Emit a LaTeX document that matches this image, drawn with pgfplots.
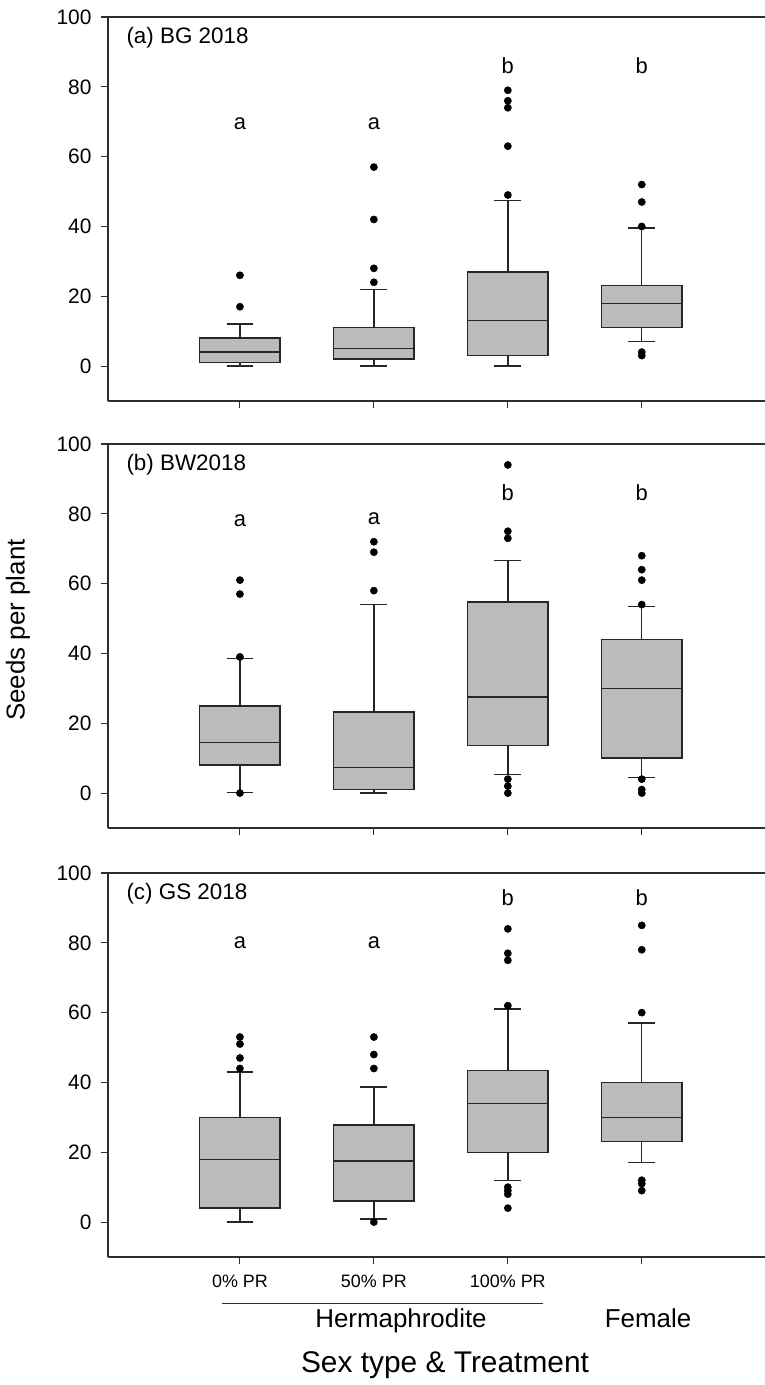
\documentclass[border=0pt]{standalone}
\usepackage{fontspec}
\setmainfont{Liberation Sans}
\usepackage{pgfplots}
\pgfplotsset{compat=1.18}
\usepgfplotslibrary{statistics}

\definecolor{boxgray}{RGB}{187,187,187}
\definecolor{spine}{RGB}{45,45,45}

\pgfplotsset{
  panel/.style={
    scale only axis, width=657bp, height=384bp,
    anchor=south west, clip=false,
    xmin=0.015, xmax=4.92, ymin=-10, ymax=100,
    axis x line*=box, axis y line*=left,
    axis line style={spine, line width=1.2pt},
    xtick={1,2,3,4}, xticklabels={}, xtick pos=left,
    ytick={0,20,40,60,80,100}, ytick pos=left,
    tick align=outside, major tick length=7bp,
    tick style={spine, line width=1.1pt},
    /pgf/number format/assume math mode=true,
    yticklabel style={font=\fontsize{21}{25}\selectfont, text=black, xshift=-6bp},
    boxplot/draw direction=y,
    boxplot/box extend=0.6,
    boxplot/whisker extend=0.2,
  },
  bx/.style={
    draw=black!85, line width=1.4pt, fill=boxgray,
    mark=*, mark size=3.6pt, mark options={draw=black, fill=black, line width=0.5pt},
  },
}
\newcommand{\lett}[3]{\node[font=\fontsize{22}{26}\selectfont] at (axis cs:#1,#2) {#3};}

\begin{document}
\begin{tikzpicture}
\useasboundingbox (0,0) rectangle (765bp,1385bp);

% (a) BG 2018
\begin{axis}[panel, at={(108bp,984bp)}]
  \addplot[bx, boxplot prepared={draw position=1,
    lower whisker=0, lower quartile=1, median=4, upper quartile=8, upper whisker=12}]
    table[row sep=\\, y index=0] {17\\ 26\\};
  \addplot[bx, boxplot prepared={draw position=2,
    lower whisker=0, lower quartile=2, median=5, upper quartile=11, upper whisker=22}]
    table[row sep=\\, y index=0] {24\\ 28\\ 42\\ 57\\};
  \addplot[bx, boxplot prepared={draw position=3,
    lower whisker=0, lower quartile=3, median=13, upper quartile=27, upper whisker=47.5}]
    table[row sep=\\, y index=0] {49\\ 63\\ 74\\ 76\\ 79\\};
  \addplot[bx, boxplot prepared={draw position=4,
    lower whisker=7, lower quartile=11, median=18, upper quartile=23, upper whisker=39.5}]
    table[row sep=\\, y index=0] {3\\ 4\\ 40\\ 47\\ 52\\};
  \lett{1}{69.5}{a}\lett{2}{69.5}{a}\lett{3}{86}{b}\lett{4}{86}{b}
  \node[anchor=west, font=\fontsize{22.5}{26}\selectfont] at ([xshift=15bp,yshift=-21bp]rel axis cs:0,1) {(a) BG 2018};
\end{axis}

% (b) BW2018
\begin{axis}[panel, at={(108bp,557bp)}]
  \addplot[bx, boxplot prepared={draw position=1,
    lower whisker=0.2, lower quartile=8, median=14.5, upper quartile=25, upper whisker=38.5}]
    table[row sep=\\, y index=0] {0\\ 39\\ 57\\ 61\\};
  \addplot[bx, boxplot prepared={draw position=2,
    lower whisker=0, lower quartile=1, median=7.3, upper quartile=23.2, upper whisker=54}]
    table[row sep=\\, y index=0] {58\\ 69\\ 72\\};
  \addplot[bx, boxplot prepared={draw position=3,
    lower whisker=5.3, lower quartile=13.7, median=27.5, upper quartile=54.7, upper whisker=66.7}]
    table[row sep=\\, y index=0] {0\\ 2\\ 4\\ 73\\ 75\\ 94\\};
  \addplot[bx, boxplot prepared={draw position=4,
    lower whisker=4.5, lower quartile=10, median=30, upper quartile=44, upper whisker=53.5}]
    table[row sep=\\, y index=0] {0\\ 1\\ 4\\ 54\\ 61\\ 64\\ 68\\};
  \lett{1}{78}{a}\lett{2}{78.5}{a}\lett{3}{86}{b}\lett{4}{86}{b}
  \node[anchor=west, font=\fontsize{22.5}{26}\selectfont] at ([xshift=15bp,yshift=-21bp]rel axis cs:0,1) {(b) BW2018};
\end{axis}

% (c) GS 2018
\begin{axis}[panel, at={(108bp,128bp)},
    xticklabels={0\% PR, 50\% PR, 100\% PR, {}},
    xticklabel style={font=\fontsize{18}{21}\selectfont, text=black, yshift=-7bp}]
  \addplot[bx, boxplot prepared={draw position=1,
    lower whisker=0, lower quartile=4, median=18, upper quartile=30, upper whisker=43}]
    table[row sep=\\, y index=0] {44\\ 47\\ 51\\ 53\\};
  \addplot[bx, boxplot prepared={draw position=2,
    lower whisker=0.9, lower quartile=6, median=17.5, upper quartile=27.8, upper whisker=38.7}]
    table[row sep=\\, y index=0] {0\\ 44\\ 48\\ 53\\};
  \addplot[bx, boxplot prepared={draw position=3,
    lower whisker=12, lower quartile=20, median=34, upper quartile=43.5, upper whisker=61}]
    table[row sep=\\, y index=0] {4\\ 8\\ 9\\ 10\\ 62\\ 75\\ 77\\ 84\\};
  \addplot[bx, boxplot prepared={draw position=4,
    lower whisker=17, lower quartile=23, median=30, upper quartile=40, upper whisker=57}]
    table[row sep=\\, y index=0] {9\\ 11\\ 12\\ 60\\ 78\\ 85\\};
  \lett{1}{80}{a}\lett{2}{80}{a}\lett{3}{93}{b}\lett{4}{93}{b}
  \node[anchor=west, font=\fontsize{22.5}{26}\selectfont] at ([xshift=15bp,yshift=-21bp]rel axis cs:0,1) {(c) GS 2018};
\end{axis}

% group labels below the bottom panel
\draw[spine, line width=0.8pt] (222bp,82bp) -- (543bp,82bp);
\node[anchor=base, font=\fontsize{26}{30}\selectfont] at (401bp,57bp) {Hermaphrodite};
\node[anchor=base, font=\fontsize{26}{30}\selectfont] at (648bp,57bp) {Female};
\node[anchor=base, font=\fontsize{30}{34}\selectfont] at (445bp,13bp) {Sex type \& Treatment};
\node[rotate=90, font=\fontsize{26}{30}\selectfont] at (18bp,755bp) {Seeds per plant};
\end{tikzpicture}
\end{document}
